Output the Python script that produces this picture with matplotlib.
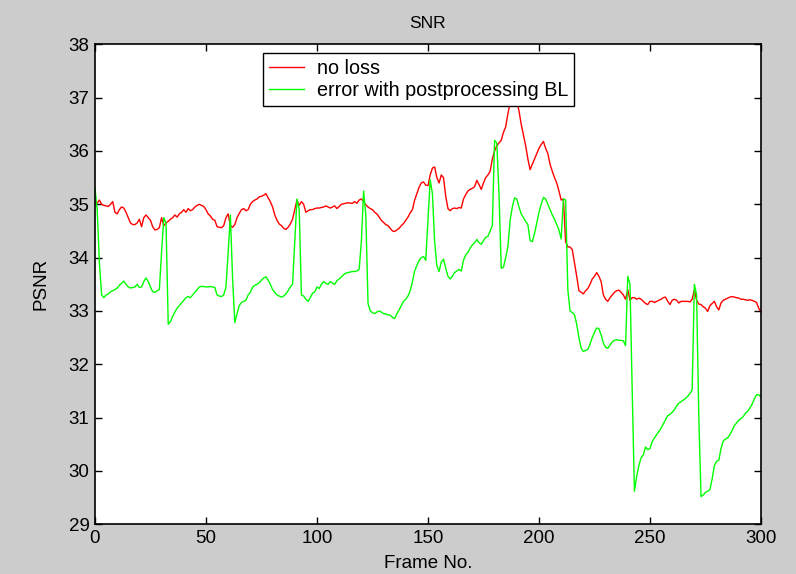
import matplotlib.pyplot as plt
import numpy as np

# PSNR per frame, frames 0..300
frames = np.arange(301)

psnr_no_loss = [
    35.05, 35.02, 35.08, 35.0, 34.98, 34.97, 34.96, 35.0, 35.05, 34.85,
    34.82, 34.9, 34.95, 34.93, 34.85, 34.75, 34.65, 34.62, 34.62, 34.65,
    34.72, 34.58, 34.75, 34.8, 34.75, 34.7, 34.58, 34.52, 34.53, 34.56,
    34.75, 34.6, 34.65, 34.68, 34.72, 34.75, 34.8, 34.76, 34.82, 34.85,
    34.9, 34.85, 34.92, 34.88, 34.9, 34.95, 34.98, 35.0, 34.98, 34.96,
    34.9, 34.82, 34.78, 34.72, 34.7, 34.58, 34.57, 34.56, 34.6, 34.75,
    34.82, 34.6, 34.57, 34.62, 34.75, 34.83, 34.9, 34.92, 34.88, 34.9,
    35.0, 35.05, 35.08, 35.1, 35.14, 35.15, 35.17, 35.2, 35.12, 35.05,
    34.95, 34.8, 34.7, 34.63, 34.6, 34.55, 34.53, 34.57, 34.63, 34.72,
    34.9, 35.08, 34.98, 35.05, 35.0, 34.85, 34.88, 34.9, 34.9, 34.92,
    34.93, 34.93, 34.94, 34.95, 34.97, 34.95, 34.93, 34.95, 34.97, 34.92,
    34.96, 35.0, 35.01, 35.02, 35.03, 35.02, 35.02, 35.05, 35.02, 35.08,
    35.1, 35.05, 34.99, 34.95, 34.92, 34.9, 34.85, 34.82, 34.76, 34.7,
    34.66, 34.62, 34.6, 34.55, 34.5, 34.49, 34.52, 34.55, 34.6, 34.64,
    34.7, 34.76, 34.84, 34.9, 35.08, 35.2, 35.32, 35.4, 35.42, 35.36,
    35.35, 35.55, 35.68, 35.7, 35.5, 35.4, 35.55, 35.5, 35.15, 34.92,
    34.88, 34.92, 34.93, 34.92, 34.94, 34.93, 35.1, 35.18, 35.25, 35.28,
    35.3, 35.33, 35.45, 35.37, 35.28, 35.4, 35.5, 35.55, 35.62, 35.85,
    36.0, 36.1, 36.15, 36.2, 36.35, 36.45, 36.7, 36.9, 37.0, 37.1,
    36.95, 36.75, 36.5, 36.3, 36.1, 35.85, 35.65, 35.75, 35.85, 35.95,
    36.05, 36.12, 36.18, 36.05, 35.95, 35.75, 35.62, 35.5, 35.4, 35.25,
    35.08, 35.1, 34.3, 34.2, 34.2, 34.15, 33.9, 33.65, 33.38, 33.35,
    33.32, 33.38, 33.42, 33.5, 33.6, 33.65, 33.72, 33.65, 33.55, 33.3,
    33.22, 33.18, 33.25, 33.3, 33.35, 33.38, 33.39, 33.35, 33.3, 33.22,
    33.4, 33.2, 33.25, 33.25, 33.22, 33.24, 33.22, 33.18, 33.14, 33.12,
    33.18, 33.18, 33.16, 33.18, 33.2, 33.22, 33.25, 33.26, 33.18, 33.12,
    33.2, 33.22, 33.2, 33.15, 33.18, 33.18, 33.18, 33.18, 33.17, 33.22,
    33.4, 33.2, 33.13, 33.12, 33.08, 33.05, 32.99, 33.1, 33.14, 33.18,
    33.08, 33.02, 33.15, 33.2, 33.22, 33.24, 33.26, 33.27, 33.26, 33.25,
    33.24, 33.22, 33.22, 33.21, 33.2, 33.21, 33.2, 33.18, 33.16, 33.05,
    32.98,
]

psnr_err_pp = [
    35.3, 34.9, 33.9, 33.3, 33.25, 33.3, 33.32, 33.36, 33.38, 33.4,
    33.43, 33.48, 33.52, 33.56, 33.5, 33.45, 33.43, 33.44, 33.45, 33.5,
    33.44, 33.45, 33.55, 33.62, 33.55, 33.45, 33.36, 33.35, 33.38, 33.4,
    34.1, 34.75, 34.65, 32.75, 32.8, 32.9, 32.98, 33.05, 33.1, 33.15,
    33.2, 33.25, 33.27, 33.25, 33.3, 33.35, 33.4, 33.45, 33.46, 33.46,
    33.45, 33.45, 33.46, 33.45, 33.44, 33.3, 33.28, 33.27, 33.3, 33.45,
    34.1, 34.8, 33.6, 32.78, 32.95, 33.1, 33.16, 33.18, 33.2, 33.3,
    33.35, 33.45, 33.48, 33.5, 33.53, 33.58, 33.62, 33.64, 33.58, 33.5,
    33.4, 33.35, 33.3, 33.28, 33.26, 33.28, 33.32, 33.38, 33.45, 33.5,
    34.3, 35.1, 34.9, 33.3, 33.28, 33.22, 33.18, 33.25, 33.33, 33.36,
    33.45, 33.42, 33.5, 33.55, 33.52, 33.5, 33.55, 33.52, 33.5, 33.57,
    33.6, 33.64, 33.68, 33.71, 33.72, 33.73, 33.74, 33.74, 33.75, 33.78,
    34.3, 35.25, 34.8, 33.14, 33.0, 32.97, 32.95, 32.98, 33.0, 32.98,
    32.95, 32.94, 32.93, 32.92, 32.88, 32.86, 32.95, 33.02, 33.1, 33.18,
    33.22, 33.28, 33.38, 33.55, 33.75, 33.85, 33.95, 34.0, 34.02, 33.95,
    34.7, 35.46, 35.2, 34.3, 33.85, 33.74, 33.92, 33.97, 33.8, 33.65,
    33.6, 33.65, 33.72, 33.75, 33.78, 33.75, 33.95, 34.05, 34.1, 34.18,
    34.24, 34.28, 34.34, 34.28, 34.25, 34.32, 34.38, 34.4, 34.5, 34.6,
    36.2, 36.15, 35.2, 33.8, 33.82, 34.0, 34.2, 34.7, 34.95, 35.12,
    35.1, 34.95, 34.82, 34.75, 34.68, 34.62, 34.32, 34.3, 34.45, 34.65,
    34.85, 35.0, 35.13, 35.1, 35.0, 34.9, 34.8, 34.72, 34.62, 34.52,
    34.35, 35.1, 35.08, 33.4, 33.0, 32.97, 32.93, 32.75, 32.5, 32.3,
    32.24, 32.26, 32.28, 32.38, 32.5, 32.6, 32.68, 32.67, 32.55, 32.4,
    32.32, 32.3, 32.36, 32.42, 32.45, 32.46, 32.45, 32.45, 32.44, 32.35,
    33.65, 33.5, 31.5, 29.62, 29.9, 30.1, 30.25, 30.3, 30.45, 30.4,
    30.42, 30.55, 30.62, 30.68, 30.74, 30.8, 30.88, 30.96, 31.04, 31.06,
    31.1, 31.15, 31.22, 31.27, 31.3, 31.33, 31.36, 31.4, 31.45, 31.52,
    33.5, 33.3, 31.0, 29.52, 29.55, 29.6, 29.62, 29.65, 29.85, 30.1,
    30.18, 30.2, 30.42, 30.56, 30.6, 30.62, 30.68, 30.76, 30.85, 30.9,
    30.95, 30.98, 31.02, 31.08, 31.12, 31.18, 31.25, 31.35, 31.43, 31.43,
    31.38,
]

x_ticks = [0, 50, 100, 150, 200, 250, 300]
y_ticks = [29, 30, 31, 32, 33, 34, 35, 36, 37, 38]

plt.rcParams['font.family'] = ['Liberation Sans', 'DejaVu Sans']

fig = plt.figure(figsize=(7.96, 5.74), dpi=100, facecolor='#cccccc')
ax = fig.add_axes([0.1193, 0.0866, 0.8367, 0.8362])
ax.set_facecolor('white')

ax.plot(frames, psnr_no_loss, color='#ff0000', lw=1.0, label='no loss')
ax.plot(frames, psnr_err_pp, color='#00ff00', lw=1.0,
        label='error with postprocessing BL')

ax.set_xlim(0, 300)
ax.set_ylim(29, 38)
ax.set_xticks(x_ticks)
ax.set_yticks(y_ticks)

# matlab style box: ticks inside on every side
ax.tick_params(direction='in', length=5, width=1, top=True, right=True,
               labelsize=13.5, pad=4, colors='black')
for s in ax.spines.values():
    s.set_linewidth(1.2)

ax.set_title('SNR', fontsize=12.5, pad=12)
ax.set_xlabel('Frame No.', fontsize=13.5, labelpad=6)
ax.set_ylabel('PSNR', fontsize=13.5, labelpad=14)

leg = ax.legend(loc='upper left', bbox_to_anchor=(0.252, 0.9825),
                borderaxespad=0, fancybox=False, framealpha=1,
                edgecolor='black', fontsize=14.2, handlelength=1.8,
                handletextpad=0.65, borderpad=0.3, labelspacing=0.15)
leg.get_frame().set_linewidth(1.0)

fig.savefig('out.png', dpi=100, facecolor=fig.get_facecolor())
